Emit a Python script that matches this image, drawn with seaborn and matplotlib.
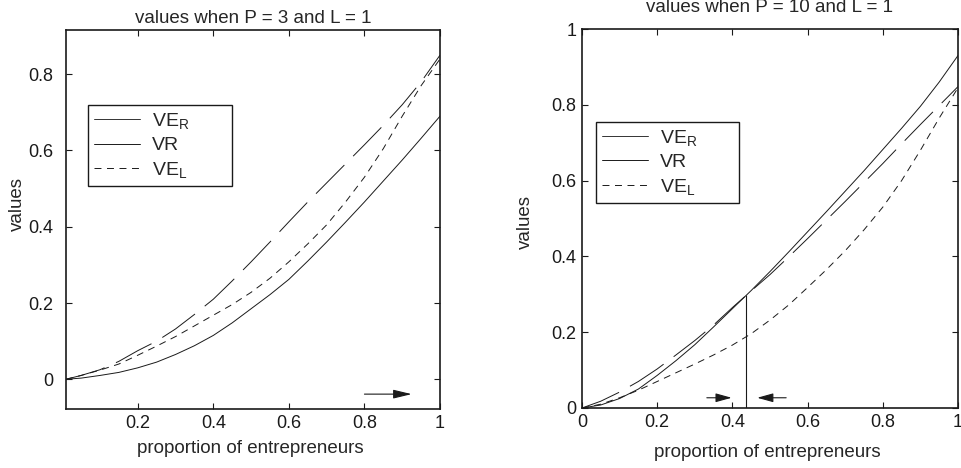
import numpy as np
import pandas as pd
import matplotlib
matplotlib.use("Agg")
import matplotlib.pyplot as plt
from matplotlib.lines import Line2D
import seaborn as sns

# proportion of entrepreneurs
x_left = [0.01, 0.05, 0.1, 0.15, 0.2, 0.25, 0.3, 0.35, 0.4, 0.45, 0.5,
          0.55, 0.6, 0.65, 0.7, 0.75, 0.8, 0.85, 0.9, 0.95, 1.0]
x_right = [0.0, 0.05, 0.1, 0.15, 0.2, 0.25, 0.3, 0.35, 0.4, 0.45, 0.5,
           0.55, 0.6, 0.65, 0.7, 0.75, 0.8, 0.85, 0.9, 0.95, 1.0]

# P = 3, L = 1
ver_left = [0.0, 0.01, 0.025, 0.047, 0.075, 0.1, 0.132, 0.17, 0.21, 0.258, 0.308,
            0.36, 0.413, 0.465, 0.515, 0.565, 0.615, 0.666, 0.72, 0.78, 0.85]
vr_left = [0.0, 0.003, 0.01, 0.018, 0.03, 0.045, 0.065, 0.088, 0.115, 0.148, 0.185,
           0.222, 0.262, 0.31, 0.36, 0.412, 0.465, 0.52, 0.575, 0.632, 0.69]
vel_left = [0.0, 0.01, 0.024, 0.04, 0.063, 0.087, 0.112, 0.14, 0.168, 0.196, 0.228,
            0.265, 0.308, 0.355, 0.405, 0.465, 0.53, 0.605, 0.69, 0.77, 0.84]

# P = 10, L = 1
ver_right = [0.0, 0.018, 0.042, 0.07, 0.103, 0.14, 0.178, 0.219, 0.265, 0.309, 0.352,
             0.399, 0.447, 0.496, 0.545, 0.595, 0.645, 0.697, 0.748, 0.798, 0.848]
vr_right = [0.0, 0.008, 0.025, 0.05, 0.086, 0.125, 0.167, 0.214, 0.262, 0.31, 0.36,
            0.412, 0.465, 0.518, 0.572, 0.626, 0.682, 0.738, 0.796, 0.86, 0.93]
vel_right = [0.0, 0.01, 0.027, 0.047, 0.07, 0.093, 0.116, 0.14, 0.166, 0.196, 0.232,
             0.272, 0.318, 0.365, 0.415, 0.47, 0.53, 0.6, 0.68, 0.765, 0.845]

# annotations
cut_x = 0.436
cut_y = 0.297
arrow_left = (0.8, 0.925, -0.039)
arrow_in_a = (0.332, 0.398, 0.027)
arrow_in_b = (0.543, 0.466, 0.027)

titles = ["values when P = 3 and L = 1", "values when P = 10 and L = 1"]
labels = [r"VE$_\mathregular{R}$", "VR", r"VE$_\mathregular{L}$"]

sns.set_theme(style="ticks")
plt.rcParams["font.family"] = ["Liberation Sans", "DejaVu Sans"]
plt.rcParams["mathtext.default"] = "regular"
plt.rcParams["lines.scale_dashes"] = False

LW = 0.7
style_ver = (0, (29, 9))
style_vel = (0, (5, 4))

fig = plt.figure(figsize=(9.62, 4.68), dpi=100)
ax1 = fig.add_axes([66 / 962, 59 / 468, 374 / 962, 379 / 468])
ax2 = fig.add_axes([582 / 962, 60 / 468, 376 / 962, 379 / 468])


def draw(ax, x, ver, vr, vel):
    df = pd.DataFrame({"x": x, "ver": ver, "vr": vr, "vel": vel})
    sns.lineplot(data=df, x="x", y="ver", ax=ax, color="k", linewidth=LW, linestyle=style_ver)
    sns.lineplot(data=df, x="x", y="vr", ax=ax, color="k", linewidth=LW)
    sns.lineplot(data=df, x="x", y="vel", ax=ax, color="k", linewidth=LW, linestyle=style_vel)


def arrow(ax, spec, hl):
    x0, x1, y = spec
    ax.annotate("", xy=(x1, y), xytext=(x0, y),
                arrowprops=dict(arrowstyle=f"-|>,head_length={hl},head_width=0.18",
                                color="k", lw=0.8, mutation_scale=15,
                                shrinkA=0, shrinkB=0))


draw(ax1, x_left, ver_left, vr_left, vel_left)
draw(ax2, x_right, ver_right, vr_right, vel_right)

ax2.vlines(cut_x, 0, cut_y, color="k", linewidth=0.8)
arrow(ax1, arrow_left, 0.75)
arrow(ax2, arrow_in_a, 0.65)
arrow(ax2, arrow_in_b, 0.65)

ax1.set_xlim(0.01, 1)
ax1.set_ylim(-0.078, 0.916)
ax1.set_xticks([0.2, 0.4, 0.6, 0.8, 1.0], ["0.2", "0.4", "0.6", "0.8", "1"])
ax1.set_yticks([0, 0.2, 0.4, 0.6, 0.8], ["0", "0.2", "0.4", "0.6", "0.8"])
ax2.set_xlim(0, 1)
ax2.set_ylim(0, 1)
ax2.set_xticks([0, 0.2, 0.4, 0.6, 0.8, 1.0], ["0", "0.2", "0.4", "0.6", "0.8", "1"])
ax2.set_yticks([0, 0.2, 0.4, 0.6, 0.8, 1.0], ["0", "0.2", "0.4", "0.6", "0.8", "1"])

handles = [Line2D([], [], color="#333333", lw=LW),
           Line2D([], [], color="k", lw=LW),
           Line2D([], [], color="k", lw=LW, linestyle=style_vel)]

legend_boxes = [(0.058, 0.3, 0.386, 0.502), (0.037, 0.25, 0.380, 0.505)]
ylab_x = [-0.107, -0.128]
ylab_y = [0.542, 0.492]
xlab_y = [-0.082, -0.094]
title_pad = [5, 12]
ytick_pad = [9, 4]

for i, ax in enumerate([ax1, ax2]):
    ax.set_title(titles[i], fontsize=13.5, pad=title_pad[i])
    ax.set_xlabel("proportion of entrepreneurs", fontsize=13.5)
    ax.set_ylabel("values", fontsize=13.5)
    ax.xaxis.set_label_coords(0.492, xlab_y[i])
    ax.yaxis.set_label_coords(ylab_x[i], ylab_y[i])
    ax.tick_params(direction="in", top=True, right=True, length=4, width=0.8,
                   labelsize=13, colors="k")
    ax.tick_params(axis="y", pad=ytick_pad[i])
    ax.tick_params(axis="x", pad=4)
    for s in ax.spines.values():
        s.set_visible(True)
        s.set_linewidth(1.2)
        s.set_color("k")
    leg = ax.legend(handles, labels, loc="upper left", bbox_to_anchor=legend_boxes[i],
                    mode="expand", borderaxespad=0, fontsize=14, handlelength=2.4,
                    handletextpad=0.6, labelspacing=0.3, borderpad=0.3,
                    fancybox=False, framealpha=1, edgecolor="k")
    leg.get_frame().set_linewidth(1.0)

fig.savefig("out.png", dpi=100)
